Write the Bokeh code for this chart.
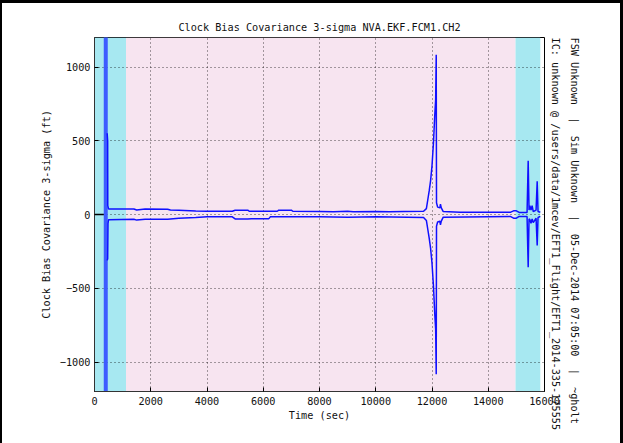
from bokeh.plotting import figure
from bokeh.models import Range1d, Title, FixedTicker
from bokeh.embed import file_html
from bokeh.resources import INLINE

# ---- data ----
x_ticks = [0, 2000, 4000, 6000, 8000, 10000, 12000, 14000, 16000]
y_ticks = [-1000, -500, 0, 500, 1000]

# mission phase bands (start, end, colour)
phase_start = [0, 1120, 14970]
phase_end = [1120, 14970, 15850]
phase_color = ["#a7e8f1", "#f7e4f0", "#a7e8f1"]

# pre-init value
t_pre = [0, 380]
v_pre = [0, 0]

# initial transient
t_init = [400, 400]
v_init = [-9000, 9000]

# +3 sigma
t_up = [450, 468, 472, 500, 1400, 1500, 1650, 1800, 2600, 2700, 3000, 3600, 4000, 4900, 5000, 5450,
        5500, 6500, 6550, 7000, 7050, 8000, 8500, 9000, 9200, 10000, 10500, 11000, 11700, 11800,
        11850, 11900, 11950, 12000, 12050, 12100, 12130, 12150, 12160, 12200, 12280, 12300, 12330,
        12400, 13000, 14000, 14800, 14900, 15000, 15100, 15380, 15420, 15450, 15480, 15520, 15560,
        15600, 15700, 15740, 15770, 15850]
v_up = [551, 500, 60, 38, 37, 30, 34, 38, 36, 30, 28, 24, 22, 22, 29, 29,
        22, 22, 29, 29, 22, 20, 18, 22, 18, 20, 18, 20, 22, 40,
        100, 160, 230, 330, 480, 680, 780, 1083, 80, 50, 45, 70, 45,
        20, 16, 15, 16, 25, 25, 14, 14, 365, 30, 60, 30, 60,
        20, 30, 226, 20, 15]

# -3 sigma
t_lo = [450, 468, 480, 500, 1400, 1500, 1800, 2600, 3000, 3600, 4000, 4900, 5000, 5450, 5580,
        6200, 6250, 8000, 9000, 10000, 11700, 11800, 11850, 11900, 11950, 12000, 12050, 12100,
        12130, 12150, 12160, 12200, 12280, 12300, 12330, 12400, 14800, 14900, 15000, 15100, 15380,
        15420, 15450, 15480, 15520, 15560, 15600, 15700, 15740, 15770, 15850]
v_lo = [-311, -300, -60, -35, -32, -38, -32, -32, -25, -20, -16, -16, -30, -30, -28,
        -28, -16, -16, -18, -16, -20, -40, -100, -160, -230, -330, -480, -680,
        -780, -1083, -80, -50, -45, -70, -45, -18, -14, -25, -25, -13, -13,
        -358, -30, -35, -60, -30, -55, -25, -210, -20, -13]

NB = "\u00a0"
SEP = NB * 2 + "|" + NB * 2
title_text = "Clock Bias Covariance 3-sigma NVA.EKF.FCM1.CH2"
x_label = "Time (sec)"
y_label = "Clock Bias Covariance 3-sigma (ft)"
info1 = "FSW Unknown" + SEP + "Sim Unknown" + SEP + "05-Dec-2014 07:05:00" + SEP + "~gholt"
info2 = "IC: unknown @ /users/data/1mcev/EFT1_Flight/EFT1_2014-335-175555"

FONT = "DejaVu Sans Mono"
FS = "10.2px"

p = figure(width=623, height=443, output_backend="svg", toolbar_location=None,
           x_range=Range1d(0, 16000), y_range=Range1d(-1200, 1200),
           min_border_left=92, min_border_right=81, min_border_top=34, min_border_bottom=55,
           background_fill_color="white", border_fill_color="white")

p.styles = {"border-top": "3px solid black",
            "border-left": "2px solid black",
            "border-right": "3px solid black"}

p.quad(left=phase_start, right=phase_end, bottom=-1200, top=1200,
       fill_color=phase_color, line_color=None, level="underlay")

p.line(t_pre, v_pre, line_color="black", line_width=1.5)
p.line(t_init, v_init, line_color="#3d5cff", line_width=4)
p.line(t_up, v_up, line_color="#1010ff", line_width=1.5)
p.line(t_lo, v_lo, line_color="#1010ff", line_width=1.5)

p.title.text = title_text
p.title.align = "center"
p.title.text_font = FONT
p.title.text_font_size = FS
p.title.text_font_style = "normal"
p.title.text_color = "#111111"

for ax in (p.xaxis[0], p.yaxis[0]):
    ax.major_label_text_font = FONT
    ax.major_label_text_font_size = FS
    ax.major_label_text_color = "#111111"
    ax.axis_label_text_font = FONT
    ax.axis_label_text_font_size = FS
    ax.axis_label_text_font_style = "normal"
    ax.axis_label_text_color = "#111111"
    ax.major_tick_in = 4
    ax.major_tick_out = 0
    ax.minor_tick_in = 0
    ax.minor_tick_out = 0
    ax.major_tick_line_color = "black"
    ax.axis_line_color = "#333333"

p.xaxis.ticker = FixedTicker(ticks=x_ticks)
p.yaxis.ticker = FixedTicker(ticks=y_ticks)
p.xaxis.axis_label = x_label
p.yaxis.axis_label = y_label
p.xaxis.major_label_standoff = 5
p.xaxis.axis_label_standoff = 2
p.yaxis.major_label_standoff = 4
p.yaxis.axis_label_standoff = 5

p.grid.grid_line_color = "black"
p.grid.grid_line_dash = "1 3"
p.grid.grid_line_alpha = 0.7

p.outline_line_color = "black"
p.outline_line_width = 1

t2 = Title(text=info2, align="left", text_font=FONT, text_font_size=FS,
           text_font_style="normal", text_color="#111111")
t1 = Title(text=info1, align="left", text_font=FONT, text_font_size=FS,
           text_font_style="normal", text_color="#111111", standoff=2)
p.add_layout(t2, "right")
p.add_layout(t1, "right")

open("out.html", "w").write(file_html(p, INLINE))
